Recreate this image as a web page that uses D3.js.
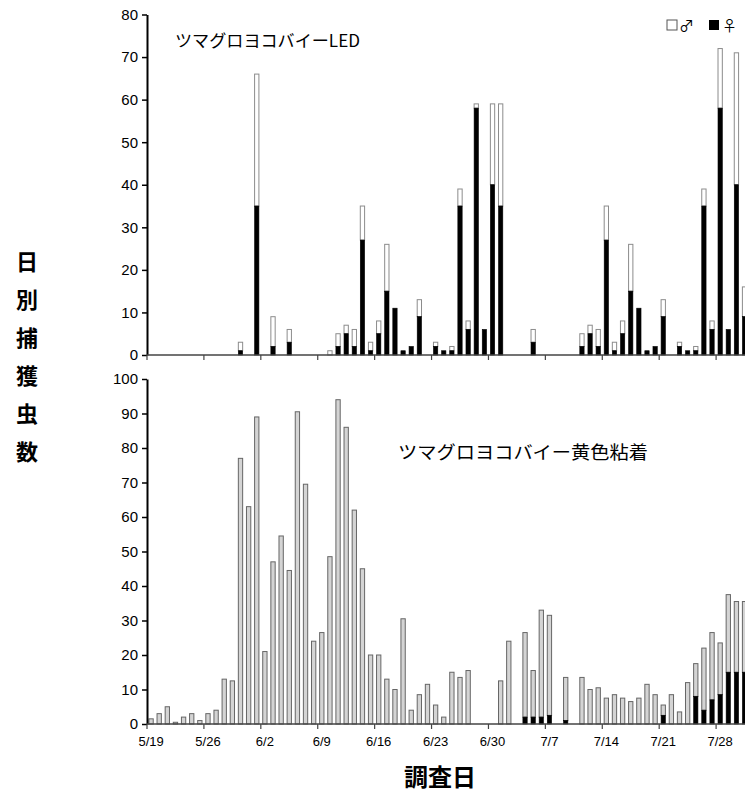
<!DOCTYPE html>
<html>
<head>
<meta charset="utf-8">
<script src="https://cdn.jsdelivr.net/npm/d3@7"></script>
<style>
  html, body { margin: 0; padding: 0; background: #fff; }
  svg { display: block; }
</style>
</head>
<body>
<svg id="chart" width="745" height="807"></svg>
<script>
// Survey dates: 5/19 .. 7/31
const dates = (() => {
  const out = [];
  const monthDays = { 5: 31, 6: 30, 7: 31 };
  let m = 5, d = 19;
  while (!(m === 8)) {
    out.push(m + "/" + d);
    d++;
    if (d > monthDays[m]) { m++; d = 1; }
  }
  return out;
})();

const tickDates = ["5/19", "5/26", "6/2", "6/9", "6/16", "6/23", "6/30", "7/7", "7/14", "7/21", "7/28"];
const ledTicks = [0, 10, 20, 30, 40, 50, 60, 70, 80];
const stickyTicks = [0, 10, 20, 30, 40, 50, 60, 70, 80, 90, 100];

// LED trap, daily catch (females / males)
const ledFemale = [
  0, 0, 0, 0, 0, 0, 0, 0, 0, 0, 0, 1, 0, 35, 0, 2, 0, 3, 0, 0,
  0, 0, 0, 2, 5, 2, 27, 1, 5, 15, 11, 1, 2, 9, 0, 2, 1, 1, 35, 6,
  58, 6, 40, 35, 0, 0, 0, 3, 0, 0, 0, 0, 0, 2, 5, 2, 27, 1, 5, 15,
  11, 1, 2, 9, 0, 2, 1, 1, 35, 6, 58, 6, 40, 9
];
const ledMale = [
  0, 0, 0, 0, 0, 0, 0, 0, 0, 0, 0, 2, 0, 31, 0, 7, 0, 3, 0, 0,
  0, 0, 1, 3, 2, 4, 8, 2, 3, 11, 0, 0, 0, 4, 0, 1, 0, 1, 4, 2,
  1, 0, 19, 24, 0, 0, 0, 3, 0, 0, 0, 0, 0, 3, 2, 4, 8, 2, 3, 11,
  0, 0, 0, 4, 0, 1, 0, 1, 4, 2, 14, 0, 31, 7
];

// Yellow sticky trap, daily catch (females / totals)
const stickyFemale = [
  0, 0, 0, 0, 0, 0, 0, 0, 0, 0, 0, 0, 0, 0, 0, 0, 0, 0, 0, 0,
  0, 0, 0, 0, 0, 0, 0, 0, 0, 0, 0, 0, 0, 0, 0, 0, 0, 0, 0, 0,
  0, 0, 0, 0, 0, 0, 2, 2, 2, 2.5, 0, 1, 0, 0, 0, 0, 0, 0, 0, 0,
  0, 0, 0, 2.5, 0, 0, 0, 8, 4, 7, 8.5, 15, 15, 15
];
const stickyTotal = [
  1.5, 3, 5, 0.5, 2, 3, 1, 3, 4, 13, 12.5, 77, 63, 89, 21, 47, 54.5, 44.5, 90.5, 69.5,
  24, 26.5, 48.5, 94, 86, 62, 45, 20, 20, 13, 10, 30.5, 4, 8.5, 11.5, 5.5, 2, 15, 13.5, 15.5,
  0, 0, 0, 12.5, 24, 0, 26.5, 15.5, 33, 31.5, 0, 13.5, 0, 13.5, 10, 10.5, 7.5, 8.5, 7.5, 6.5,
  7.5, 11.5, 8.5, 5.5, 8.5, 3.5, 12, 17.5, 22, 26.5, 23.5, 37.5, 35.5, 35.5
];
const stickyMale = stickyTotal.map((t, i) => Math.max(0, t - stickyFemale[i]));

const svg = d3.select("#chart");
const jpFont = "'Noto Sans CJK JP', 'Noto Sans', sans-serif";
const numFont = "'Liberation Sans', Arial, sans-serif";

// Shared category axis
const plotLeft = 147;
const step = 8.13;
const x = d3.scaleBand()
  .domain(dates)
  .range([plotLeft, plotLeft + step * dates.length])
  .paddingInner(0.47)
  .paddingOuter(0.235);
const gap = x.step() * x.paddingInner() / 2;

const yLed = d3.scaleLinear().domain([0, 80]).range([355, 14.5]);
const ySticky = d3.scaleLinear().domain([0, 100]).range([724, 379]);

function drawPanel(y, ticks, female, male, maleFill, maleStroke, femaleStroke) {
  const g = svg.append("g");
  const rows = dates.map((d, i) => ({ d, f: female[i], m: male[i] }));

  // male segment stacked on top of female segment
  g.selectAll("rect.male")
    .data(rows.filter(r => r.m > 0))
    .join("rect")
    .attr("x", r => x(r.d))
    .attr("width", x.bandwidth())
    .attr("y", r => y(r.f + r.m))
    .attr("height", r => y(r.f) - y(r.f + r.m))
    .attr("fill", maleFill)
    .attr("stroke", maleStroke)
    .attr("stroke-width", 1);

  g.selectAll("rect.female")
    .data(rows.filter(r => r.f > 0))
    .join("rect")
    .attr("x", r => x(r.d))
    .attr("width", x.bandwidth())
    .attr("y", r => y(r.f))
    .attr("height", r => y(0) - y(r.f))
    .attr("fill", "#000")
    .attr("stroke", femaleStroke)
    .attr("stroke-width", 0.6);

  // y axis
  const ya = g.append("g")
    .attr("transform", `translate(${plotLeft},0)`)
    .call(d3.axisLeft(y).tickValues(ticks).tickSize(5).tickSizeOuter(0));
  ya.select(".domain").attr("stroke", "#000").attr("stroke-width", 2);
  ya.selectAll(".tick line").attr("stroke", "#000").attr("stroke-width", 1.5);
  ya.selectAll(".tick text")
    .attr("x", -9)
    .attr("font-family", numFont)
    .attr("font-size", 15)
    .attr("fill", "#000");

  // x baseline with weekly tick marks between categories
  const base = y(0);
  g.append("line")
    .attr("x1", plotLeft).attr("x2", x.range()[1])
    .attr("y1", base).attr("y2", base)
    .attr("stroke", "#444").attr("stroke-width", 1.5);
  g.selectAll("line.wk")
    .data(tickDates)
    .join("line")
    .attr("x1", d => x(d) - gap).attr("x2", d => x(d) - gap)
    .attr("y1", base).attr("y2", base + 5)
    .attr("stroke", "#444").attr("stroke-width", 1.2);
  return g;
}

drawPanel(yLed, ledTicks, ledFemale, ledMale, "#fff", "#8c8c8c", "#000");
drawPanel(ySticky, stickyTicks, stickyFemale, stickyMale, "#d4d4d4", "#666", "#000");

// date labels under the lower panel
svg.append("g")
  .selectAll("text")
  .data(tickDates)
  .join("text")
  .attr("x", d => x(d) + x.bandwidth() / 2)
  .attr("y", 746)
  .attr("text-anchor", "middle")
  .attr("font-family", numFont)
  .attr("font-size", 13)
  .text(d => d);

// panel titles
svg.append("text")
  .attr("x", 175).attr("y", 47)
  .attr("font-family", jpFont)
  .attr("font-size", 17)
  .attr("textLength", 185)
  .attr("lengthAdjust", "spacingAndGlyphs")
  .text("ツマグロヨコバイーLED");

svg.append("text")
  .attr("x", 398).attr("y", 459)
  .attr("font-family", jpFont)
  .attr("font-size", 18)
  .attr("textLength", 250)
  .attr("lengthAdjust", "spacingAndGlyphs")
  .text("ツマグロヨコバイー黄色粘着");

// legend
const lg = svg.append("g").attr("font-family", jpFont).attr("font-size", 15);
lg.append("rect").attr("x", 667).attr("y", 20).attr("width", 10).attr("height", 10)
  .attr("fill", "#fff").attr("stroke", "#555").attr("stroke-width", 1);
lg.append("text").attr("x", 679).attr("y", 31).text("♂");
lg.append("rect").attr("x", 709).attr("y", 20).attr("width", 10).attr("height", 10)
  .attr("fill", "#000");
lg.append("text").attr("x", 722).attr("y", 31).text("♀");

// vertical y-axis title
const yTitle = "日別捕獲虫数".split("");
svg.append("g")
  .selectAll("text")
  .data(yTitle)
  .join("text")
  .attr("x", 27)
  .attr("y", (c, i) => 270 + i * 38)
  .attr("text-anchor", "middle")
  .attr("font-family", jpFont)
  .attr("font-weight", "bold")
  .attr("font-size", 22)
  .text(c => c);

// x-axis title
svg.append("text")
  .attr("x", 440).attr("y", 786)
  .attr("text-anchor", "middle")
  .attr("font-family", jpFont)
  .attr("font-weight", "bold")
  .attr("font-size", 24)
  .text("調査日");
</script>
</body>
</html>
